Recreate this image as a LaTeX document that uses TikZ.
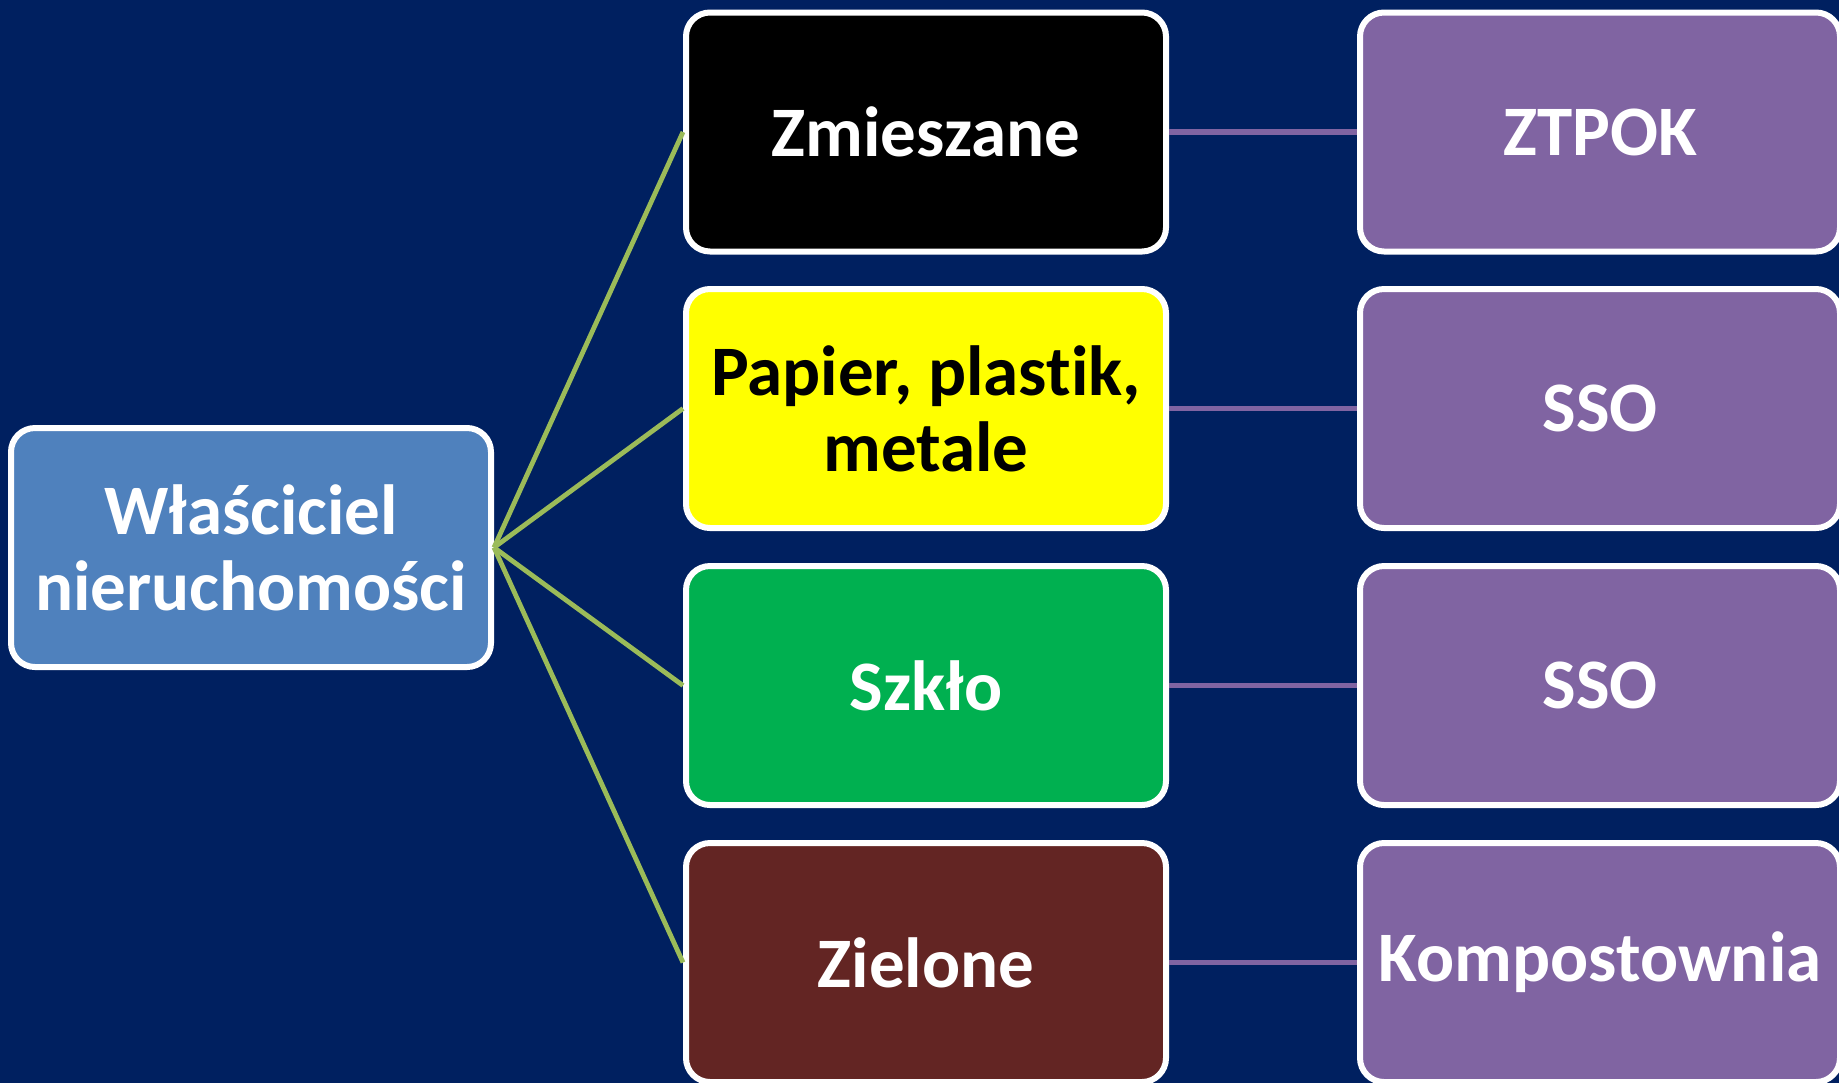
\documentclass[tikz,border=0pt]{standalone}
\usepackage{fontspec}
\setmainfont{Carlito}[Ligatures={NoCommon}]
\definecolor{bgblue}{RGB}{0,32,96}
\definecolor{ownerblue}{RGB}{79,129,189}
\definecolor{wasteyellow}{RGB}{255,255,0}
\definecolor{wastegreen}{RGB}{0,176,80}
\definecolor{wastebrown}{RGB}{99,37,35}
\definecolor{destpurple}{RGB}{128,100,162}
\definecolor{linkgreen}{RGB}{155,187,89}
\tikzset{
  box/.style={draw=white, line width=3pt, rounded corners=12pt,
    minimum width=240pt, minimum height=119.5pt, align=center,
    text=white, font=\fontsize{35.5pt}{38pt}\selectfont\bfseries, inner sep=4pt},
  greenlink/.style={draw=linkgreen, line width=2.4pt},
  purplelink/.style={draw=destpurple, line width=2.8pt},
}
\begin{document}
\begin{tikzpicture}[x=0.5pt,y=-0.5pt]
\useasboundingbox (0,0) rectangle (1839,1083);
\fill[bgblue] (0,0) rectangle (1839,1083);

\node[box, fill=ownerblue] (owner) at (251,547.5) {Właściciel\\nieruchomości};

\node[box, fill=black] (mixed) at (926,132) {Zmieszane};
\node[box, fill=wasteyellow, text=black] (paper) at (926,408.5) {Papier, plastik,\\metale};
\node[box, fill=wastegreen] (glass) at (926,685.5) {Szkło};
\node[box, fill=wastebrown] (green) at (926,962.5) {Zielone};

\node[box, fill=destpurple] (d1) at (1600,132) {ZTPOK};
\node[box, fill=destpurple] (d2) at (1600,408.5) {SSO};
\node[box, fill=destpurple] (d3) at (1600,685.5) {SSO};
\node[box, fill=destpurple] (d4) at (1600,962.5) {Kompostownia};

\draw[greenlink] (owner.east) -- (mixed.west);
\draw[greenlink] (owner.east) -- (paper.west);
\draw[greenlink] (owner.east) -- (glass.west);
\draw[greenlink] (owner.east) -- (green.west);

\draw[purplelink] (mixed.east) -- (d1.west);
\draw[purplelink] (paper.east) -- (d2.west);
\draw[purplelink] (glass.east) -- (d3.west);
\draw[purplelink] (green.east) -- (d4.west);
\end{tikzpicture}
\end{document}
